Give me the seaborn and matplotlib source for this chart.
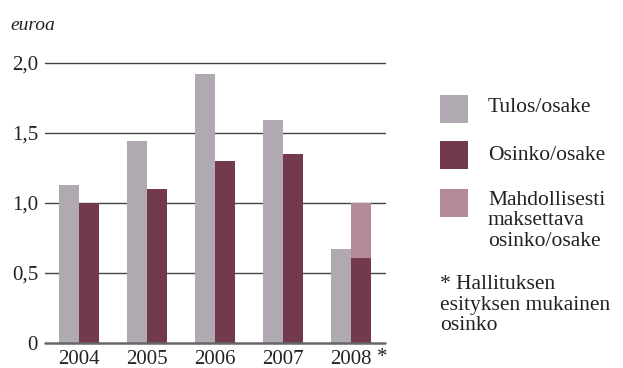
import matplotlib
matplotlib.use("Agg")
import matplotlib.pyplot as plt
from matplotlib.patches import Rectangle
import seaborn as sns
import pandas as pd

years = ["2004", "2005", "2006", "2007", "2008"]
tulos = [1.13, 1.44, 1.92, 1.59, 0.67]
osinko = [1.00, 1.10, 1.30, 1.35, 0.61]
mahdollinen = [0.0, 0.0, 0.0, 0.0, 0.39]
yticks = [0, 0.5, 1.0, 1.5, 2.0]
ytick_labels = ["0", "0,5", "1,0", "1,5", "2,0"]
legend_labels = ["Tulos/osake", "Osinko/osake", "Mahdollisesti\nmaksettava\nosinko/osake"]
note = "* Hallituksen\nesityksen mukainen\nosinko"

c_tulos = "#b0a9b1"
c_osinko = "#733a4e"
c_mahd = "#b48a96"

sns.set_theme(style="white")
plt.rcParams["font.family"] = ["Liberation Serif", "DejaVu Serif"]
plt.rcParams["text.color"] = "#222222"
plt.rcParams["xtick.color"] = "#222222"
plt.rcParams["ytick.color"] = "#222222"

fig = plt.figure(figsize=(6.23, 3.68), dpi=100)
ax = fig.add_axes([45 / 623, 1 - 343 / 368, 340 / 623, 280 / 368])

total = [o + m for o, m in zip(osinko, mahdollinen)]
df_total = pd.DataFrame({
    "year": years * 2,
    "value": tulos + total,
    "serie": ["Tulos"] * 5 + ["Osinko"] * 5,
})
df = pd.DataFrame({
    "year": years * 2,
    "value": tulos + osinko,
    "serie": ["Tulos"] * 5 + ["Osinko"] * 5,
})

sns.barplot(data=df_total, x="year", y="value", hue="serie", hue_order=["Tulos", "Osinko"],
            palette=[c_tulos, c_mahd], width=0.6, errorbar=None, ax=ax, legend=False,
            linewidth=0, saturation=1, zorder=2)
sns.barplot(data=df, x="year", y="value", hue="serie", hue_order=["Tulos", "Osinko"],
            palette=[c_tulos, c_osinko], width=0.6, errorbar=None, ax=ax, legend=False,
            linewidth=0, saturation=1, zorder=3)

ax.set_xlim(-0.5, 4.5)
ax.set_ylim(0, 2.0)
for y in yticks[1:]:
    ax.axhline(y, color="#444444", lw=1.0, zorder=1, clip_on=False)
ax.axhline(0, color="#666666", lw=1.8, zorder=4, clip_on=False)
for s in ax.spines.values():
    s.set_visible(False)
ax.set_yticks(yticks)
ax.set_yticklabels(ytick_labels)
ax.tick_params(axis="y", length=0, pad=5, labelsize=15)
ax.tick_params(axis="x", length=0, pad=5, labelsize=15)
ax.set_xlabel("")
ax.set_ylabel("")
ax.grid(False)
ax.annotate("*", xy=(4, 0), xycoords="data", xytext=(19, -3.5), textcoords="offset points",
            ha="left", va="top", fontsize=15)

fig.text(10 / 623, 1 - 25 / 368, "euroa", style="italic", fontsize=14, va="center", ha="left")

colors = [c_tulos, c_osinko, c_mahd]
sq_y = [95, 141, 189]
for col, yy in zip(colors, sq_y):
    fig.patches.append(Rectangle((440 / 623, 1 - (yy + 28) / 368), 28 / 623, 28 / 368,
                                 transform=fig.transFigure, facecolor=col, edgecolor="none"))

fig.text(488 / 623, 1 - 108 / 368, legend_labels[0], fontsize=15.5, va="center", ha="left")
fig.text(488 / 623, 1 - 155 / 368, legend_labels[1], fontsize=15.5, va="center", ha="left")
fig.text(488 / 623, 1 - 191 / 368, legend_labels[2], fontsize=15.5, va="top", ha="left", linespacing=1.1)
fig.text(440 / 623, 1 - 275 / 368, note, fontsize=15.5, va="top", ha="left", linespacing=1.12)

fig.savefig("out.png", dpi=100)
